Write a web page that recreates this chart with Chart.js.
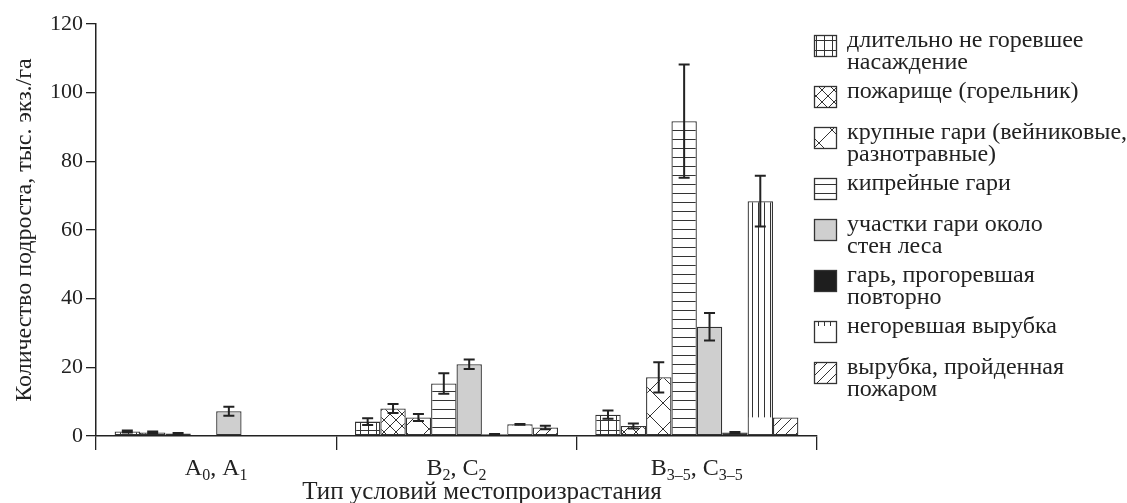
<!DOCTYPE html>
<html>
<head>
<meta charset="utf-8">
<script src="https://cdn.jsdelivr.net/npm/chart.js@4/dist/chart.umd.min.js"></script>
<style>
  body { margin: 0; background: #fff; }
  #wrap { width: 1127px; height: 503px; position: relative; }
</style>
</head>
<body>
<div id="wrap"><canvas id="myChart"></canvas></div>
<script>
// categories (subscripts written as _x or _{..})
var categories = ['A_0, A_1', 'B_2, C_2', 'B_{3–5}, C_{3–5}'];
var xTitle = 'Тип условий местопроизрастания';
var yTitle = 'Количество подроста, тыс. экз./га';

var seriesNames = [
  'длительно не горевшее\nнасаждение',
  'пожарище (горельник)',
  'крупные гари (вейниковые,\nразнотравные)',
  'кипрейные гари',
  'участки гари около\nстен леса',
  'гарь, прогоревшая\nповторно',
  'негоревшая вырубка',
  'вырубка, пройденная\nпожаром'
];

// values per series (тыс. экз./га)
var dlitelno    = [1.3, 4.2, 6.2];
var pozharische = [1.0, 8.0, 2.9];
var krupnye     = [0.7, 5.4, 17.1];
var kipreynye   = [null, 15.3, 91.7];
var uchastki    = [7.2, 20.9, 31.8];
var povtorno    = [null, 0.5, 1.0];
var negorev     = [null, 3.4, 68.4];
var vyrubkaPozh = [null, 2.5, 5.4];

// error bar half-widths
var errDlitelno    = [0.3, 1.0, 1.2];
var errPozharische = [0.3, 1.3, 0.75];
var errKrupnye     = [0.2, 1.0, 4.4];
var errKipreynye   = [null, 3.0, 16.5];
var errUchastki    = [1.3, 1.4, 4.0];
var errPovtorno    = [null, 0.1, 0.2];
var errNegorev     = [null, 0.1, 7.4];
var errVyrubkaPozh = [null, 0.5, null];

var yTicks = [0, 20, 40, 60, 80, 100, 120];

var FONT = "'Liberation Serif', 'Times New Roman', serif";
var INK = '#222';

document.addEventListener('DOMContentLoaded', function () {
  var ctx = document.getElementById('myChart').getContext('2d');

  // petits motifs de hachures
  function motif(w, h, draw) {
    var c = document.createElement('canvas');
    c.width = w; c.height = h;
    var g = c.getContext('2d');
    g.fillStyle = '#fff';
    g.fillRect(0, 0, w, h);
    g.strokeStyle = '#333';
    g.lineWidth = 1;
    g.beginPath();
    draw(g, w, h);
    g.stroke();
    return ctx.createPattern(c, 'repeat');
  }

  var fills = [
    motif(8, 10, function (g, w, h) { g.moveTo(0, 0.5); g.lineTo(w, 0.5); g.moveTo(0.5, 0); g.lineTo(0.5, h); }),
    motif(12, 12, function (g, w, h) { g.moveTo(0, 0); g.lineTo(w, h); g.moveTo(w, 0); g.lineTo(0, h); }),
    motif(26, 26, function (g, w, h) { g.moveTo(0, 0); g.lineTo(w, h); g.moveTo(w, 0); g.lineTo(0, h); }),
    motif(10, 9, function (g, w, h) { g.moveTo(0, 4.5); g.lineTo(w, 4.5); }),
    '#cfcfcf',
    '#1e1e1e',
    motif(6, 10, function (g, w, h) { g.moveTo(2.5, 0); g.lineTo(2.5, h); }),
    motif(10, 10, function (g, w, h) {
      g.moveTo(0, h); g.lineTo(w, 0);
      g.moveTo(-2, 2); g.lineTo(2, -2);
      g.moveTo(w - 2, h + 2); g.lineTo(w + 2, h - 2);
    })
  ];

  var values = [dlitelno, pozharische, krupnye, kipreynye, uchastki, povtorno, negorev, vyrubkaPozh];
  var errors = [errDlitelno, errPozharische, errKrupnye, errKipreynye, errUchastki, errPovtorno, errNegorev, errVyrubkaPozh];

  var datasets = values.map(function (v, i) {
    return {
      label: seriesNames[i],
      data: v,
      errors: errors[i],
      backgroundColor: fills[i],
      borderColor: '#333',
      borderWidth: 1.3,
      borderSkipped: false
    };
  });

  // texte avec indices
  function parseRich(text) {
    var parts = [];
    var re = /_\{([^}]*)\}|_(.)/g, last = 0, m;
    while ((m = re.exec(text)) !== null) {
      if (m.index > last) parts.push({ t: text.slice(last, m.index), sub: false });
      parts.push({ t: m[1] !== undefined ? m[1] : m[2], sub: true });
      last = re.lastIndex;
    }
    if (last < text.length) parts.push({ t: text.slice(last), sub: false });
    return parts;
  }

  function drawRich(c, text, cx, cy, size) {
    var parts = parseRich(text);
    var big = size + 'px ' + FONT, small = Math.round(size * 0.68) + 'px ' + FONT;
    var total = 0;
    parts.forEach(function (p) { c.font = p.sub ? small : big; p.w = c.measureText(p.t).width; total += p.w; });
    var x = cx - total / 2;
    c.textAlign = 'left';
    c.textBaseline = 'alphabetic';
    parts.forEach(function (p) {
      c.font = p.sub ? small : big;
      c.fillText(p.t, x, cy + (p.sub ? size * 0.55 : size * 0.33));
      x += p.w;
    });
  }

  var customDraw = {
    id: 'customDraw',
    afterDatasetsDraw: function (chart) {
      var c = chart.ctx, y = chart.scales.y;
      c.save();
      // vyrubka: bas de la barre sans hachures
      var m6 = chart.getDatasetMeta(6);
      m6.data.forEach(function (el, i) {
        if (negorev[i] == null) return;
        var bw = 1.3, half = el.width / 2;
        var top = Math.max(el.y + bw, el.base - 18);
        c.fillStyle = '#fff';
        c.fillRect(el.x - half + bw, top, el.width - 2 * bw, el.base - bw - top);
      });
      // barres d'erreur
      c.strokeStyle = INK;
      c.lineWidth = 2;
      chart.data.datasets.forEach(function (ds, di) {
        var meta = chart.getDatasetMeta(di);
        meta.data.forEach(function (el, i) {
          var v = ds.data[i], e = ds.errors[i];
          if (v == null || e == null) return;
          var hi = y.getPixelForValue(v + e), lo = y.getPixelForValue(Math.max(0, v - e));
          c.beginPath();
          c.moveTo(el.x, hi); c.lineTo(el.x, lo);
          c.moveTo(el.x - 5.5, hi); c.lineTo(el.x + 5.5, hi);
          c.moveTo(el.x - 5.5, lo); c.lineTo(el.x + 5.5, lo);
          c.stroke();
        });
      });
      c.restore();
    },
    afterDraw: function (chart) {
      var c = chart.ctx, x = chart.scales.x;
      c.save();
      c.fillStyle = INK;
      // étiquettes de catégories
      categories.forEach(function (lab, i) {
        drawRich(c, lab, x.getPixelForValue(i), 467, 24);
      });
      // titre de l'axe x
      c.font = '25px ' + FONT;
      c.textAlign = 'center';
      c.textBaseline = 'middle';
      c.fillText(xTitle, 482, 492);
      // légende
      var top = 35;
      chart.data.datasets.forEach(function (ds, i) {
        var lines = ds.label.split('\n');
        c.fillStyle = ds.backgroundColor;
        c.fillRect(814, top, 23, 22);
        if (i === 6) { c.fillStyle = '#fff'; c.fillRect(815, top + 5, 21, 16); }
        c.strokeStyle = '#333';
        c.lineWidth = 1.3;
        c.strokeRect(814.5, top + 0.5, 22, 21);
        c.fillStyle = INK;
        c.font = '24px ' + FONT;
        c.textAlign = 'left';
        c.textBaseline = 'middle';
        lines.forEach(function (ln, k) { c.fillText(ln, 847, top + 6 + k * 22); });
        top += lines.length > 1 ? 51 : 41;
      });
      c.restore();
    }
  };

  window.myChart = new Chart(ctx, {
    type: 'bar',
    data: { labels: categories, datasets: datasets },
    plugins: [customDraw],
    options: {
      responsive: true,
      maintainAspectRatio: false,
      animation: false,
      layout: { padding: { top: 24, right: 310, left: 0, bottom: 0 } },
      plugins: { legend: { display: false }, tooltip: { enabled: false } },
      datasets: { bar: { categoryPercentage: 0.845, barPercentage: 1.0 } },
      scales: {
        x: {
          offset: true,
          grid: { display: true, drawOnChartArea: false, drawTicks: true, tickLength: 14, color: INK, lineWidth: 1.3, offset: true },
          border: { color: INK, width: 1.5 },
          ticks: { display: false },
          afterFit: function (s) { s.height = 67; }
        },
        y: {
          min: 0, max: 120,
          afterBuildTicks: function (s) { s.ticks = yTicks.map(function (v) { return { value: v }; }); },
          grid: { display: true, drawOnChartArea: false, drawTicks: true, tickLength: 10, color: INK, lineWidth: 1.3 },
          border: { color: INK, width: 1.5 },
          ticks: { color: INK, padding: 3, font: { family: FONT, size: 22 } },
          title: { display: true, text: yTitle, color: INK, font: { family: FONT, size: 24 }, padding: { top: 10, bottom: 0 } },
          afterFit: function (s) { s.width = 96; }
        }
      }
    }
  });
});
</script>
</body>
</html>
